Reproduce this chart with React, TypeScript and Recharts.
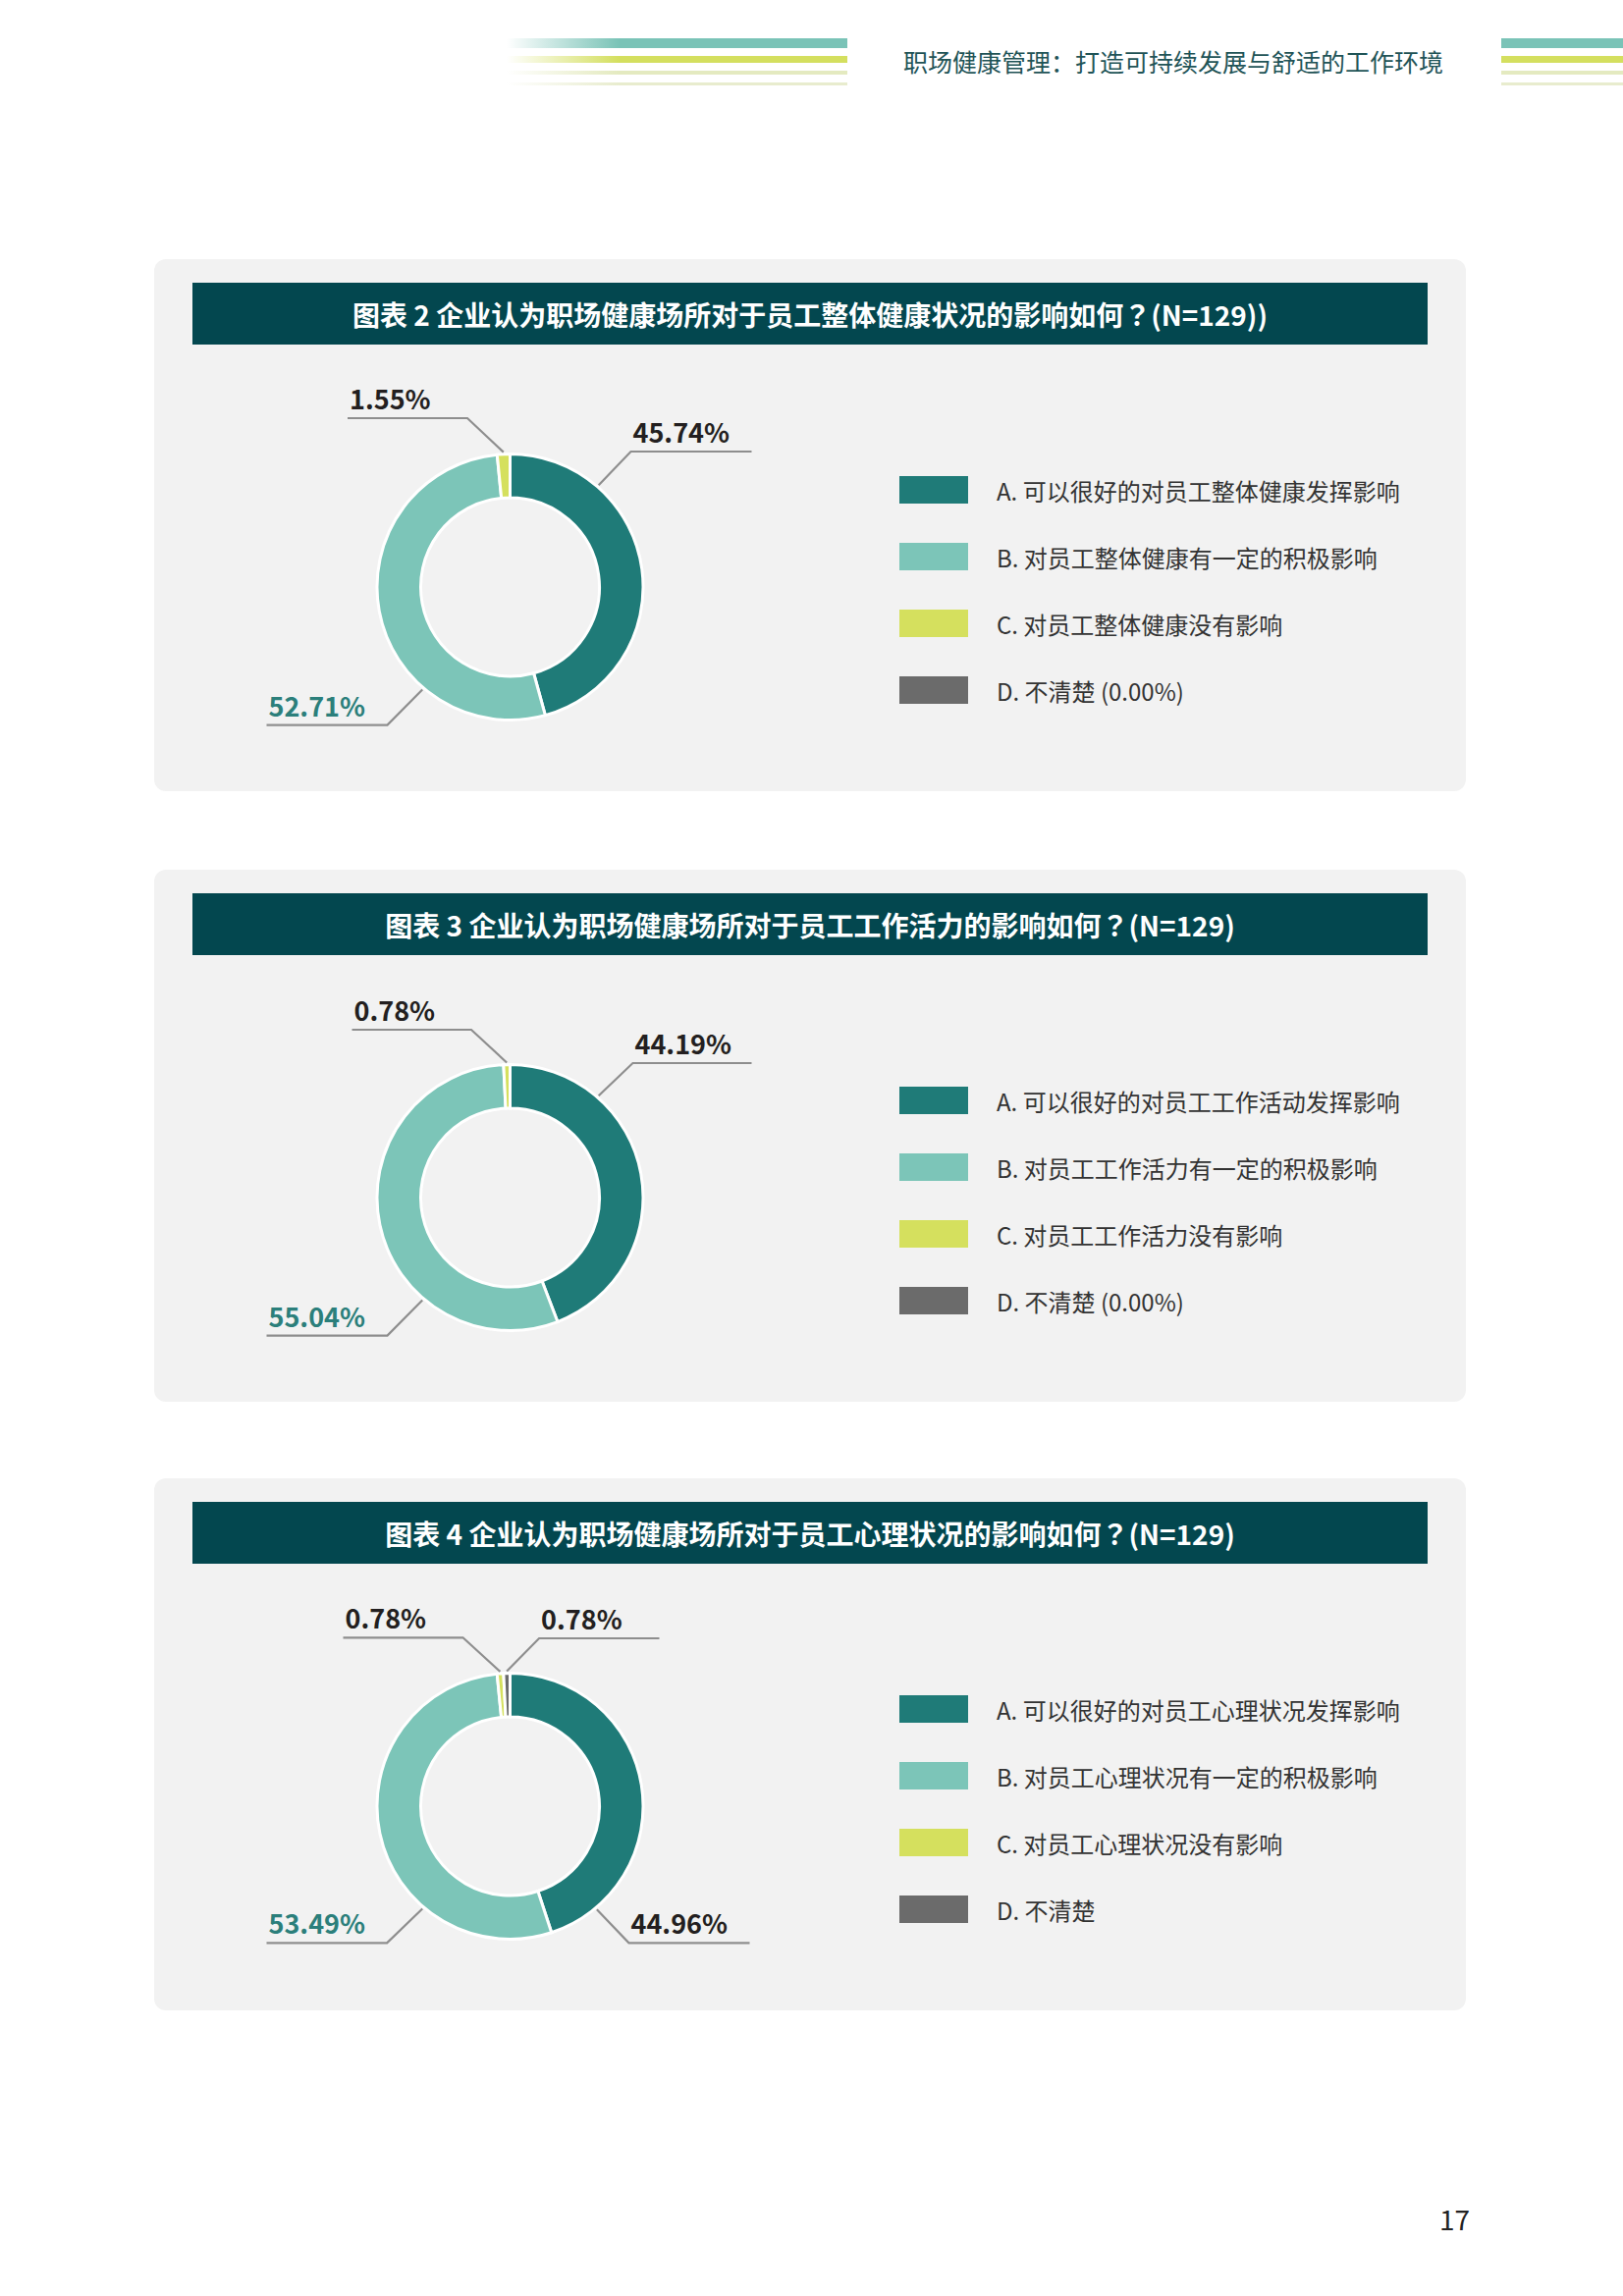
import React from "react"
import { PieChart, Pie, Cell } from "recharts"

// ---- data ----
const categories = ["A", "B", "C", "D"]

const fig2Title = "图表 2 企业认为职场健康场所对于员工整体健康状况的影响如何？(N=129))"
const fig2Values = [45.74, 52.71, 1.55, 0]
const fig2Legend = [
  "A. 可以很好的对员工整体健康发挥影响",
  "B. 对员工整体健康有一定的积极影响",
  "C. 对员工整体健康没有影响",
  "D. 不清楚 (0.00%)",
]

const fig3Title = "图表 3 企业认为职场健康场所对于员工工作活力的影响如何？(N=129)"
const fig3Values = [44.19, 55.04, 0.78, 0]
const fig3Legend = [
  "A. 可以很好的对员工工作活动发挥影响",
  "B. 对员工工作活力有一定的积极影响",
  "C. 对员工工作活力没有影响",
  "D. 不清楚 (0.00%)",
]

const fig4Title = "图表 4 企业认为职场健康场所对于员工心理状况的影响如何？(N=129)"
const fig4Values = [44.96, 53.49, 0.78, 0.78]
const fig4Legend = [
  "A. 可以很好的对员工心理状况发挥影响",
  "B. 对员工心理状况有一定的积极影响",
  "C. 对员工心理状况没有影响",
  "D. 不清楚",
]

const headerText = "职场健康管理：打造可持续发展与舒适的工作环境"
const pageNumber = "17"

// ---- styles ----
const colors = ["#1f7b78", "#7cc5b8", "#d5e05e", "#6b6b6b"]
const FONT = '"Noto Sans CJK SC", "Noto Sans", sans-serif'
const DARK = "#231f20"
const TEAL_TEXT = "#2b7f7b"

// leader line layouts: angle = attach point (deg clockwise from top, null = slice middle),
// elbow = offset from centre, end = x offset of the horizontal run
type LabelPos = { angle: number | null; elbow: [number, number]; end: number } | null

const fig2Labels: LabelPos[] = [
  { angle: 41, elbow: [123, -138], end: 246 },
  { angle: 220.5, elbow: [-125, 140.6], end: -248 },
  { angle: null, elbow: [-43.5, -172], end: -165.5 },
  null,
]
const fig3Labels: LabelPos[] = [
  { angle: 41, elbow: [125, -137], end: 246 },
  { angle: 220.5, elbow: [-125, 140.6], end: -248 },
  { angle: null, elbow: [-39.5, -171], end: -161 },
  null,
]
const fig4Labels: LabelPos[] = [
  { angle: 140, elbow: [121, 139.3], end: 244 },
  { angle: 220.5, elbow: [-125.4, 139.3], end: -248 },
  { angle: null, elbow: [-48, -171.7], end: -170 },
  { angle: null, elbow: [29.6, -171], end: 152 },
]

const PANEL_W = 1336
const PANEL_H = 542

const makeLabel = (layout: LabelPos[]) => (props: any) => {
  const { cx, cy, midAngle, index, value } = props
  const l = layout[index]
  if (!l) return null
  const r = 137.5
  let ax: number, ay: number
  if (l.angle == null) {
    const rad = (-midAngle * Math.PI) / 180
    ax = cx + r * Math.cos(rad)
    ay = cy + r * Math.sin(rad)
  } else {
    const rad = (l.angle * Math.PI) / 180
    ax = cx + r * Math.sin(rad)
    ay = cy - r * Math.cos(rad)
  }
  const ex = cx + l.elbow[0]
  const ey = cy + l.elbow[1]
  const endX = cx + l.end
  const tx = l.end > l.elbow[0] ? ex + 2 : endX + 2
  return (
    <g key={`lbl-${index}`}>
      <polyline
        points={`${ax},${ay} ${ex},${ey} ${endX},${ey}`}
        fill="none"
        stroke="#8e8e8e"
        strokeWidth={2.2}
      />
      <text
        x={tx}
        y={ey - 9}
        textAnchor="start"
        fill={index === 1 ? TEAL_TEXT : DARK}
        fontSize={27}
        fontWeight={700}
        fontFamily={FONT}
      >
        {Number(value).toFixed(2)}%
      </text>
    </g>
  )
}

// the question mark in the titles is a centred full-width glyph
function TitleText({ text }: { text: string }) {
  const parts = text.split("？")
  return (
    <span>
      {parts[0]}
      <span style={{ fontFamily: '"Noto Sans CJK TC", sans-serif' }}>？</span>
      {parts[1]}
    </span>
  )
}

function Panel({
  top,
  title,
  values,
  legend,
  labels,
}: {
  top: number
  title: string
  values: number[]
  legend: string[]
  labels: LabelPos[]
}) {
  const data = categories.map((c, i) => ({ name: c, value: values[i] }))
  return (
    <div
      style={{
        position: "absolute",
        left: 157,
        top,
        width: PANEL_W,
        height: PANEL_H,
        background: "#f2f2f2",
        borderRadius: 12,
      }}
    >
      <div
        style={{
          position: "absolute",
          left: 39,
          top: 24,
          width: 1258,
          height: 63,
          background: "#03474f",
          color: "#fff",
          fontWeight: 700,
          fontSize: 28,
          display: "flex",
          alignItems: "center",
          justifyContent: "center",
          whiteSpace: "nowrap",
        }}
      >
        <TitleText text={title} />
      </div>
      <div style={{ position: "absolute", left: 0, top: 0 }}>
        <PieChart width={PANEL_W} height={PANEL_H} margin={{ top: 0, right: 0, bottom: 0, left: 0 }}>
          <Pie
            data={data}
            dataKey="value"
            nameKey="name"
            cx={362.5}
            cy={334}
            innerRadius={91}
            outerRadius={135.5}
            startAngle={90}
            endAngle={-270}
            stroke="#ffffff"
            strokeWidth={3}
            labelLine={false}
            label={makeLabel(labels)}
            isAnimationActive={false}
          >
            {data.map((d, i) => (
              <Cell key={d.name} fill={colors[i]} />
            ))}
          </Pie>
        </PieChart>
      </div>
      {legend.map((t, i) => (
        <div
          key={t}
          style={{
            position: "absolute",
            left: 759,
            top: 235 + i * 68 - 14,
            height: 28,
            display: "flex",
            alignItems: "center",
            whiteSpace: "nowrap",
          }}
        >
          <div style={{ width: 70, height: 28, background: colors[i] }} />
          <span style={{ marginLeft: 29, fontSize: 24, color: "#333" }}>{t}</span>
        </div>
      ))}
    </div>
  )
}

const bar = (top: number, h: number, color: string, fade: boolean) => ({
  position: "absolute" as const,
  top,
  height: h,
  left: 0,
  right: 0,
  background: fade ? `linear-gradient(to right, rgba(255,255,255,0) 0%, ${color} 33%, ${color} 100%)` : color,
})

export default function App() {
  return (
    <div
      style={{
        position: "absolute",
        left: 0,
        top: 0,
        width: 1653,
        height: 2339,
        background: "#fff",
        fontFamily: FONT,
        overflow: "hidden",
      }}
    >
      <div style={{ position: "absolute", left: 516, top: 0, width: 347, height: 100 }}>
        <div style={bar(39, 10, "#7ac3b7", true)} />
        <div style={bar(57, 7, "#d4df5f", true)} />
        <div style={bar(72, 4, "#e4eac0", true)} />
        <div style={bar(84, 3, "#e8ecce", true)} />
      </div>
      <div style={{ position: "absolute", left: 1529, top: 0, width: 124, height: 100 }}>
        <div style={bar(39, 10, "#7ac3b7", false)} />
        <div style={bar(57, 7, "#d4df5f", false)} />
        <div style={bar(72, 4, "#e4eac0", false)} />
        <div style={bar(84, 3, "#e8ecce", false)} />
      </div>
      <div
        style={{
          position: "absolute",
          left: 920,
          top: 45,
          fontSize: 25,
          lineHeight: "34px",
          color: "#1f5457",
          whiteSpace: "nowrap",
        }}
      >
        {headerText}
      </div>

      <Panel top={264} title={fig2Title} values={fig2Values} legend={fig2Legend} labels={fig2Labels} />
      <Panel top={886} title={fig3Title} values={fig3Values} legend={fig3Legend} labels={fig3Labels} />
      <Panel top={1506} title={fig4Title} values={fig4Values} legend={fig4Legend} labels={fig4Labels} />

      <div
        style={{
          position: "absolute",
          left: 1466,
          top: 2242,
          fontSize: 28,
          lineHeight: "36px",
          color: "#222",
        }}
      >
        {pageNumber}
      </div>
    </div>
  )
}
